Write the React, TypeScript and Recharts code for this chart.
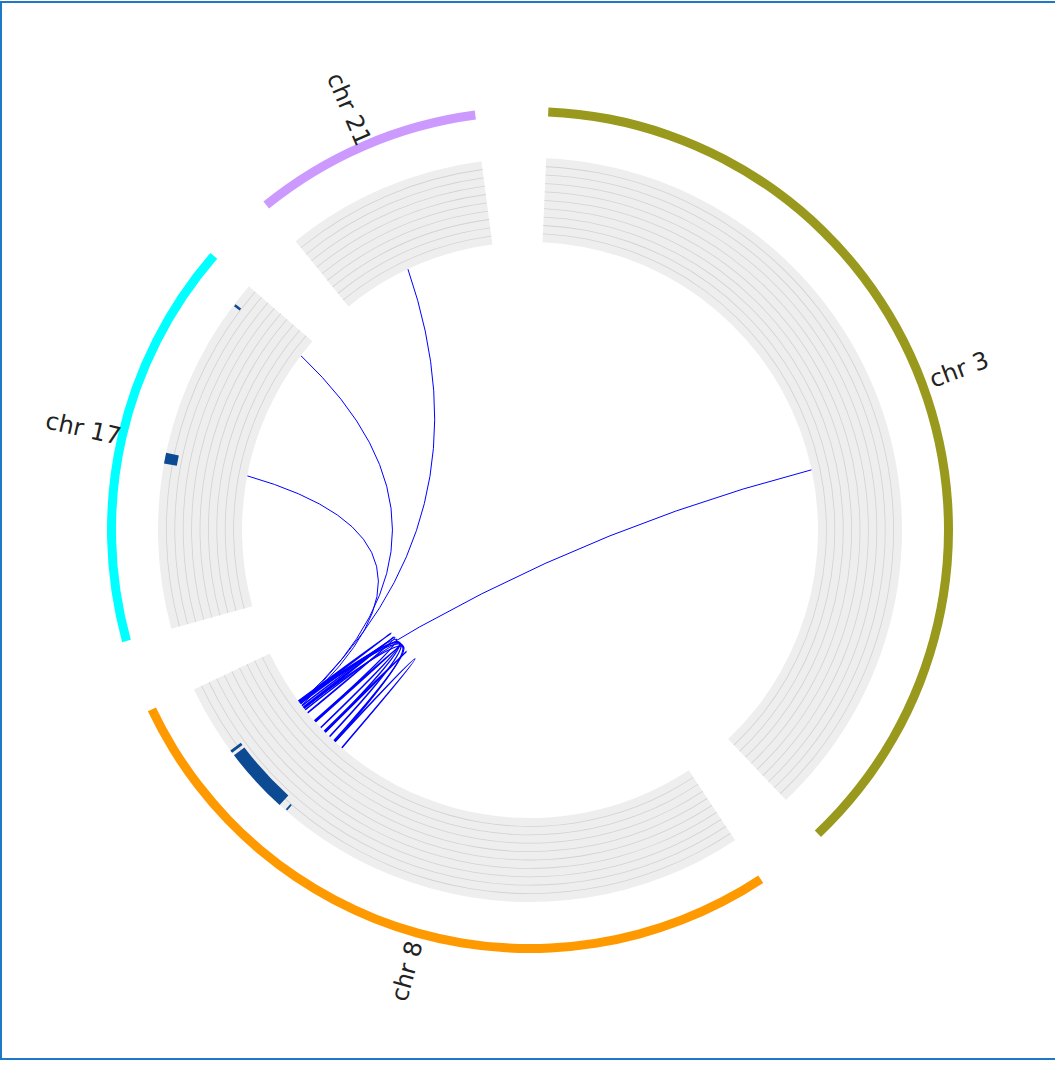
import React from "react";
import { PieChart, Pie, Cell, Customized } from "recharts";

// chromosome ideogram (hg38 lengths, Mb)
const CHROMS = ["chr3", "chr8", "chr17", "chr21"];
const CHROM_LABELS = ["chr 3", "chr 8", "chr 17", "chr 21"];
const CHROM_LENGTHS = [198.3, 145.1, 83.3, 46.7];
const CHROM_COLORS = ["#99991e", "#ff9900", "#00ffff", "#cc99ff"];
const GAP = 14.8;

// highlighted regions on the track: [chrom, start Mb, end Mb]
const WIDE_REGIONS: [string, number, number][] = [
  ["chr8", 112.1, 127.5],
  ["chr8", 128.2, 128.9],
  ["chr17", 38.0, 40.5],
];
const THIN_REGIONS: [string, number, number][] = [
  ["chr8", 110.0, 110.4],
  ["chr17", 77.6, 78.2],
];

// links: [chrom A, pos A, chrom B, pos B]
const LINKS: [string, number, string, number][] = [
  ["chr3", 111.6, "chr8", 128.5],
  ["chr21", 20.7, "chr8", 128.0],
  ["chr17", 77.9, "chr8", 127.6],
  ["chr17", 38.8, "chr8", 127.2],
  ["chr8", 128.3, "chr8", 128.7],
  ["chr8", 126.0, "chr8", 126.4],
  ["chr8", 116.6, "chr8", 117.0],
  ["chr8", 120.8, "chr8", 121.2],
  ["chr8", 112.6, "chr8", 128.4],
  ["chr8", 116.7, "chr8", 128.2],
  ["chr8", 124.3, "chr8", 127.0],
  ["chr8", 109.9, "chr8", 112.6],
  ["chr8", 121.0, "chr8", 127.8],
  ["chr8", 113.0, "chr8", 126.2],
  ["chr8", 114.8, "chr8", 128.6],
  ["chr8", 118.5, "chr8", 125.5],
];

const CX = 530;
const CY = 530;
const START = 87.5;
const END = START - 360;
const TRACK_IN = 288;
const TRACK_OUT = 372;
const BANDS = 10;
const RAD = Math.PI / 180;

const TOTAL = CHROM_LENGTHS.reduce((a, b) => a + b, 0) + GAP * CHROMS.length;

const ideogram = CHROMS.flatMap((c, i) => [
  { name: c, value: CHROM_LENGTHS[i], fill: CHROM_COLORS[i] },
  { name: "gap" + i, value: GAP, fill: "none" },
]);

function regionSegments(regions: [string, number, number][], color: string) {
  const out: { value: number; fill: string }[] = [];
  CHROMS.forEach((c, i) => {
    const rs = regions.filter((r) => r[0] === c).sort((a, b) => a[1] - b[1]);
    let cur = 0;
    rs.forEach(([, s, e]) => {
      if (s > cur) out.push({ value: s - cur, fill: "none" });
      out.push({ value: e - s, fill: color });
      cur = e;
    });
    out.push({ value: CHROM_LENGTHS[i] - cur, fill: "none" });
    out.push({ value: GAP, fill: "none" });
  });
  return out;
}

const MARK = "#0c4a94";
const wideSegs = regionSegments(WIDE_REGIONS, MARK);
const thinSegs = regionSegments(THIN_REGIONS, MARK);

function toXY(chr: string, p: number, r: number) {
  const idx = CHROMS.indexOf(chr);
  let off = p;
  for (let k = 0; k < idx; k++) off += CHROM_LENGTHS[k] + GAP;
  const a = START - (off / TOTAL) * 360;
  return [CX + r * Math.cos(-a * RAD), CY + r * Math.sin(-a * RAD)];
}

function Links() {
  return (
    <g>
      {LINKS.map(([ca, pa, cb, pb], i) => {
        const [x0, y0] = toXY(ca, pa, TRACK_IN);
        const [x2, y2] = toXY(cb, pb, TRACK_IN);
        const qx = CX + 0.2 * ((x0 + x2) / 2 - CX);
        const qy = CY + 0.2 * ((y0 + y2) / 2 - CY);
        return (
          <path
            key={i}
            d={`M${x0},${y0} Q${qx},${qy} ${x2},${y2}`}
            fill="none"
            stroke="#0000ff"
            strokeWidth={ca === cb ? 1.6 : 1}
          />
        );
      })}
    </g>
  );
}

const renderLabel = (p: any) => {
  if (p.index % 2 !== 0) return null;
  const r = 458;
  const x = p.cx + r * Math.cos(-p.midAngle * RAD);
  const y = p.cy + r * Math.sin(-p.midAngle * RAD);
  let rot = -p.midAngle;
  while (rot > 180) rot -= 360;
  while (rot <= -180) rot += 360;
  if (rot > 90) rot -= 180;
  if (rot < -90) rot += 180;
  return (
    <text
      x={x}
      y={y}
      textAnchor="middle"
      dominantBaseline="central"
      transform={`rotate(${rot},${x},${y})`}
      fontFamily="DejaVu Sans"
      fontSize={24}
      fill="#222"
    >
      {CHROM_LABELS[p.index / 2]}
    </text>
  );
};

const bandLines = Array.from({ length: BANDS - 1 }, (_, i) => TRACK_IN + ((i + 1) * (TRACK_OUT - TRACK_IN)) / BANDS);

export default function App() {
  return (
    <div style={{ position: "relative", width: 1055, height: 1065 }}>
      <style>{`body{margin:0;background:#fff}`}</style>
      <div
        style={{
          position: "absolute",
          left: 0,
          top: 1,
          width: 1060,
          height: 1059,
          border: "2px solid #1e78c8",
          boxSizing: "border-box",
        }}
      />
      <div style={{ position: "absolute", left: 0, top: 0 }}>
        <PieChart width={1055} height={1062} margin={{ top: 0, right: 0, bottom: 0, left: 0 }}>
          <Pie
            data={ideogram}
            dataKey="value"
            cx={CX}
            cy={CY}
            startAngle={START}
            endAngle={END}
            innerRadius={TRACK_IN}
            outerRadius={TRACK_OUT}
            stroke="none"
            isAnimationActive={false}
          >
            {ideogram.map((d, i) => (
              <Cell key={i} fill={d.fill === "none" ? "none" : "#eeeeee"} />
            ))}
          </Pie>
          {bandLines.map((r, j) => (
            <Pie
              key={"band" + j}
              data={ideogram}
              dataKey="value"
              cx={CX}
              cy={CY}
              startAngle={START}
              endAngle={END}
              innerRadius={r - 0.4}
              outerRadius={r + 0.4}
              stroke="none"
              isAnimationActive={false}
            >
              {ideogram.map((d, i) => (
                <Cell key={i} fill={d.fill === "none" ? "none" : "#d2d2d2"} />
              ))}
            </Pie>
          ))}
          <Pie
            data={wideSegs}
            dataKey="value"
            cx={CX}
            cy={CY}
            startAngle={START}
            endAngle={END}
            innerRadius={359}
            outerRadius={372}
            stroke="none"
            isAnimationActive={false}
          >
            {wideSegs.map((d, i) => (
              <Cell key={i} fill={d.fill} />
            ))}
          </Pie>
          <Pie
            data={thinSegs}
            dataKey="value"
            cx={CX}
            cy={CY}
            startAngle={START}
            endAngle={END}
            innerRadius={364}
            outerRadius={371}
            stroke="none"
            isAnimationActive={false}
          >
            {thinSegs.map((d, i) => (
              <Cell key={i} fill={d.fill} />
            ))}
          </Pie>
          <Pie
            data={ideogram}
            dataKey="value"
            cx={CX}
            cy={CY}
            startAngle={START}
            endAngle={END}
            innerRadius={414}
            outerRadius={423}
            stroke="none"
            label={renderLabel}
            labelLine={false}
            isAnimationActive={false}
          >
            {ideogram.map((d, i) => (
              <Cell key={i} fill={d.fill} />
            ))}
          </Pie>
          <Customized component={Links} />
        </PieChart>
      </div>
    </div>
  );
}
